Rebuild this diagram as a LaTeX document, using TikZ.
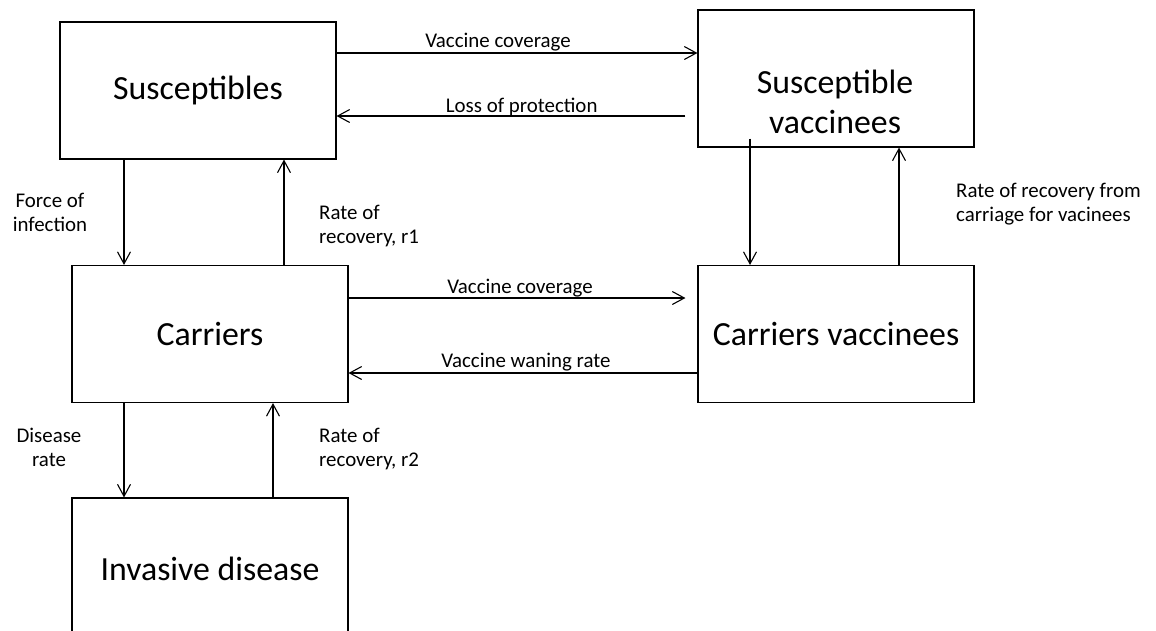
\documentclass[tikz,border=0pt]{standalone}
\usepackage{fontspec}
\setmainfont{Carlito}
\usetikzlibrary{arrows.meta,calc}
\begin{document}
\begin{tikzpicture}[x=1pt,y=-1pt,
  box/.style={draw, line width=1.1pt, minimum width=276pt, minimum height=137pt, inner sep=0pt, font=\fontsize{33.8}{40}\selectfont},
  big/.style={inner sep=0pt, align=center, font=\fontsize{33.8}{40}\selectfont},
  lbl/.style={font=\fontsize{20.9}{24}\selectfont, inner sep=0pt},
  arr/.style={line width=1.1pt, -{Straight Barb[length=12pt,width=13pt]}}]
\useasboundingbox (0,0) rectangle (1156,630);
\clip (0,0) rectangle (1156,630);
% boxes
\node[box] (sus) at (198,90.5) {Susceptibles};
\node[box] (sv) at (836,78.5) {};
\node[big] (svt) at (835,102) {Susceptible\\vaccinees};
\node[box] (car) at (210,334) {Carriers};
\node[box] (cv) at (836,334) {Carriers vaccinees};
\node[box, minimum height=142pt] (inv) at (210,569) {Invasive disease};
% horizontal arrows
\draw[arr] (sus.east |- 0,53) -- (sv.west |- 0,53);
\draw[arr] ($(sv.west |- 0,116)+(-12,0)$) -- (sus.east |- 0,116);
\draw[arr] (car.east |- 0,298) -- ($(cv.west |- 0,298)+(-12,0)$);
\draw[arr] (cv.west |- 0,373) -- (car.east |- 0,373);
% vertical arrows
\draw[arr] (124,0 |- sus.south) -- (124,0 |- car.north);
\draw[arr] (284,0 |- car.north) -- (284,0 |- sus.south);
\draw[arr] ($(750,0 |- sv.south)+(0,-9)$) -- (750,0 |- cv.north);
\draw[arr] (899,0 |- cv.north) -- (899,0 |- sv.south);
\draw[arr] (124,0 |- car.south) -- (124,0 |- inv.north);
\draw[arr] (273,0 |- inv.north) -- (273,0 |- car.south);
% labels
\node[lbl, anchor=base] (l1) at (498,47.5) {Vaccine coverage};
\node[lbl, anchor=base] (l2) at (521.7,112) {Loss of protection};
\node[lbl, anchor=base] (l3) at (520,293) {Vaccine coverage};
\node[lbl, anchor=base] (l4) at (526,367) {Vaccine waning rate};
\node[lbl, align=center, anchor=base] (l5) at (50,231) {Force of\\infection};
\node[lbl, align=left, anchor=base west] (l6) at (319,243) {Rate of\\recovery, r1};
\node[lbl, align=center, anchor=base] (l7) at (49,466) {Disease\\rate};
\node[lbl, align=left, anchor=base west] (l8) at (319,466) {Rate of\\recovery, r2};
\node[lbl, align=left, anchor=base west] (l9) at (956,221) {Rate of recovery from\\carriage for vacinees};
\end{tikzpicture}
\end{document}
